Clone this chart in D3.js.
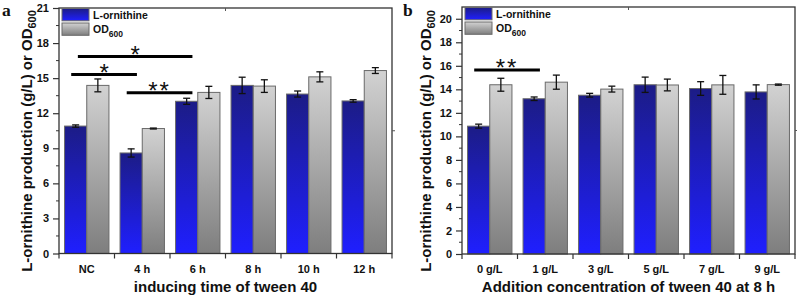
<!DOCTYPE html>
<html><head><meta charset="utf-8">
<script src="https://cdn.jsdelivr.net/npm/d3@7"></script>
<style>
body{margin:0;background:#fff;}
svg{display:block;font-family:"Liberation Sans",Arial,sans-serif;}
</style></head>
<body><svg id="c" width="797" height="299"></svg>
<script>
// ---- data ----
const catsA = ["NC","4 h","6 h","8 h","10 h","12 h"];
const ornA = [10.9, 8.6, 13.02, 14.38, 13.64, 13.05];
const ornErrA = [0.1, 0.35, 0.26, 0.7, 0.26, 0.11];
const odA = [14.38, 10.69, 13.78, 14.32, 15.11, 15.65];
const odErrA = [0.55, 0.04, 0.52, 0.54, 0.43, 0.25];
const yTicksA = [0,3,6,9,12,15,18,21];
const sigA = [
  {a:0, b:2, y:16.86, label:"*"},
  {a:0, b:1, y:15.31, label:"*"},
  {a:1, b:2, y:13.75, label:"**"}
];

const catsB = ["0 g/L","1 g/L","3 g/L","5 g/L","7 g/L","9 g/L"];
const ornB = [10.87, 13.2, 13.5, 14.39, 14.07, 13.78];
const ornErrB = [0.17, 0.15, 0.16, 0.65, 0.58, 0.6];
const odB = [14.39, 14.61, 14.02, 14.37, 14.38, 14.4];
const odErrB = [0.55, 0.6, 0.25, 0.5, 0.8, 0.05];
const yTicksB = [0,2,4,6,8,10,12,14,16,18,20];
const sigB = [
  {a:0, b:1, y:15.65, label:"**"}
];

const seriesNames = ["L-ornithine","OD"];

const svg = d3.select("#c");
const defs = svg.append("defs");
function grad(id, c1, c2){
  const g = defs.append("linearGradient").attr("id",id).attr("x1",0).attr("y1",0).attr("x2",0).attr("y2",1);
  g.append("stop").attr("offset","0%").attr("stop-color",c1);
  g.append("stop").attr("offset","100%").attr("stop-color",c2);
}
grad("gBlue","#1c1c86","#1f1fff");
grad("gGray","#d2d2d2","#7e7e7e");

function panel(o){
  const g = svg.append("g");
  const x = d3.scaleBand().domain(o.cats).range([o.left,o.right]).paddingInner(0.2).paddingOuter(0.1);
  const y = d3.scaleLinear().domain([0,21]).range([o.bottom,o.top]);
  const xi = d3.scaleBand().domain([0,1]).range([0,x.bandwidth()]);
  const bw = x.bandwidth(), step = x.step();

  // bars
  const series = [
    {v:o.orn, e:o.ornErr, fill:"url(#gBlue)"},
    {v:o.od, e:o.odErr, fill:"url(#gGray)"}
  ];
  series.forEach((s,si)=>{
    o.cats.forEach((c,i)=>{
      const x0 = x(c)+xi(si);
      g.append("rect").attr("x",x0).attr("y",y(s.v[i])).attr("width",xi.bandwidth())
        .attr("height",y(0)-y(s.v[i])).attr("fill",s.fill).attr("stroke","#6a6a6a").attr("stroke-width",1);
      const cx = x0+xi.bandwidth()/2;
      const y1 = y(s.v[i]+s.e[i]), y2 = y(s.v[i]-s.e[i]);
      g.append("line").attr("x1",cx).attr("x2",cx).attr("y1",y1).attr("y2",y2).attr("stroke","#111").attr("stroke-width",1.3);
      [y1,y2].forEach(yy=>g.append("line").attr("x1",cx-3.5).attr("x2",cx+3.5).attr("y1",yy).attr("y2",yy).attr("stroke","#111").attr("stroke-width",1.3));
    });
  });

  // frame
  g.append("rect").attr("x",o.left).attr("y",o.top).attr("width",o.right-o.left).attr("height",o.bottom-o.top)
    .attr("fill","none").attr("stroke","#333").attr("stroke-width",1.3);

  // y axis ticks
  const yAxis = d3.axisLeft(y).tickValues(o.yTicks).tickSize(6).tickPadding(4).tickFormat(d3.format("d"));
  const ya = g.append("g").attr("transform",`translate(${o.left},0)`).call(yAxis);
  ya.select(".domain").remove();
  ya.selectAll("line").attr("stroke","#333").attr("stroke-width",1.2);
  ya.selectAll("text").attr("font-size","11px").attr("font-weight","bold").attr("fill","#111");
  // minor ticks
  const minors = [];
  for(let k=0;k<o.yTicks.length-1;k++) minors.push((o.yTicks[k]+o.yTicks[k+1])/2);
  minors.forEach(m=>g.append("line").attr("x1",o.left-3).attr("x2",o.left).attr("y1",y(m)).attr("y2",y(m)).attr("stroke","#333").attr("stroke-width",1));

  // x ticks at band boundaries
  for(let i=0;i<=o.cats.length;i++){
    const xx = o.left + i*step;
    g.append("line").attr("x1",xx).attr("x2",xx).attr("y1",o.bottom).attr("y2",o.bottom+5).attr("stroke","#333").attr("stroke-width",1.2);
  }
  o.cats.forEach(c=>{
    g.append("text").attr("x",x(c)+bw/2).attr("y",o.bottom+19).attr("text-anchor","middle")
      .attr("font-size","11px").attr("font-weight","bold").attr("fill","#111").text(c);
  });
  // stray mirror ticks
  const mx = (o.left+o.right)/2;
  g.append("line").attr("x1",mx).attr("x2",mx).attr("y1",o.top).attr("y2",o.top+3).attr("stroke","#555").attr("stroke-width",1);
  g.append("line").attr("x1",o.right).attr("x2",o.right+3).attr("y1",y(10.5)).attr("y2",y(10.5)).attr("stroke","#555").attr("stroke-width",1);

  // axis titles
  g.append("text").attr("x",(o.left+o.right)/2).attr("y",291.5).attr("text-anchor","middle")
    .attr("font-size","15px").attr("font-weight","bold").attr("fill","#111").text(o.xTitle);
  const yt = g.append("text").attr("transform",`translate(${o.yTitleX},${o.yTitleY}) rotate(-90)`)
    .attr("text-anchor","middle").attr("font-size","15px").attr("font-weight","bold").attr("fill","#111");
  yt.append("tspan").text("L-ornithine production (g/L) or OD");
  yt.append("tspan").attr("font-size","11px").attr("dy","4").text("600");

  // panel letter
  g.append("text").attr("x",o.letterX).attr("y",16).attr("font-family","'Liberation Serif',serif")
    .attr("font-size","17.5px").attr("font-weight","bold").attr("fill","#111").text(o.letter);

  // legend
  const lx = o.left+3, ly = o.top+0.5;
  [["gBlue",0],["gGray",1]].forEach(([gid,k])=>{
    g.append("rect").attr("x",lx).attr("y",ly+k*14.5).attr("width",27).attr("height",12.3)
      .attr("fill",`url(#${gid})`).attr("stroke","#6a6a6a").attr("stroke-width",1);
  });
  g.append("text").attr("x",lx+31).attr("y",ly+10.5).attr("font-size","10.5px").attr("font-weight","bold").attr("fill","#111").text(seriesNames[0]);
  const t2 = g.append("text").attr("x",lx+31).attr("y",ly+24.5).attr("font-size","10.5px").attr("font-weight","bold").attr("fill","#111");
  t2.append("tspan").text(seriesNames[1]);
  t2.append("tspan").attr("font-size","8.5px").attr("dy","4").text("600");

  // significance
  o.sig.forEach(s=>{
    const xa = x(o.cats[s.a]) + bw*(s.b-s.a>1?0.3:0.15);
    const xb = x(o.cats[s.b]) + bw*0.38;
    const yy = y(s.y);
    g.append("line").attr("x1",xa).attr("x2",xb).attr("y1",yy).attr("y2",yy).attr("stroke","#000").attr("stroke-width",3);
    g.append("text").attr("x",(xa+xb)/2).attr("y",yy+6.5).attr("text-anchor","middle")
      .attr("font-size","24px").attr("letter-spacing", s.label.length>1?"2px":"0px").attr("fill","#111").text(s.label);
  });
}

panel({cats:catsA, orn:ornA, ornErr:ornErrA, od:odA, odErr:odErrA, yTicks:yTicksA, sig:sigA,
  left:59, right:392, top:8, bottom:253.5, xTitle:"inducing time of tween 40",
  yTitleX:32, yTitleY:141, letter:"a", letterX:2});
panel({cats:catsB, orn:ornB, ornErr:ornErrB, od:odB, odErr:odErrB, yTicks:yTicksB, sig:sigB,
  left:462, right:795, top:7, bottom:254, xTitle:"Addition concentration of tween 40 at 8 h",
  yTitleX:431, yTitleY:141, letter:"b", letterX:403});
</script></body></html>
